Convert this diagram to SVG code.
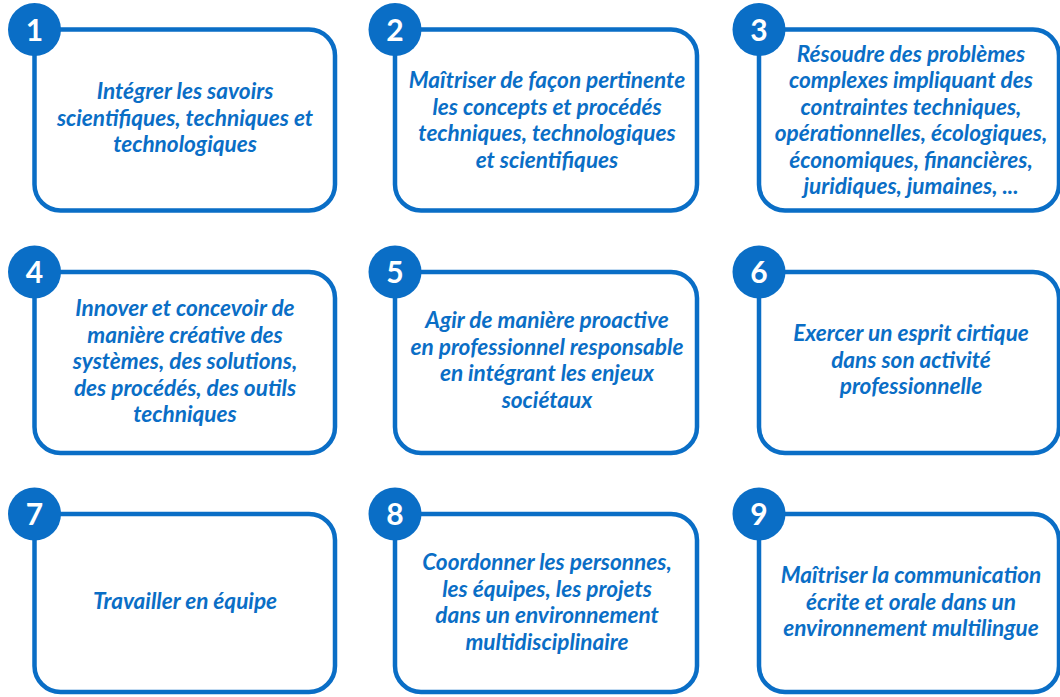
<svg xmlns="http://www.w3.org/2000/svg" width="1060" height="697" viewBox="0 0 1060 697">
<style>
.box{fill:#ffffff;stroke:#0A6EC6;stroke-width:4.5}
.num{fill:#0A6EC6}
.nt{fill:#ffffff;font-family:"Lato","Liberation Sans",sans-serif;font-weight:700;font-size:30px;text-anchor:middle}
.t{fill:#0A6EC6;font-family:"Lato","Liberation Sans",sans-serif;font-weight:700;font-style:italic;font-size:22.6px;text-anchor:middle}
</style>
<rect width="1060" height="697" fill="#ffffff"/>
<g id="connectors"></g>
<g id="node1">
<rect class="box" x="34.5" y="29.5" width="300.5" height="181" rx="26"/>
<circle class="num" cx="34.5" cy="29.5" r="26.5"/>
<text class="nt" x="34.5" y="40.5">1</text>
<text class="t" x="185" y="99">Intégrer les savoirs</text>
<text class="t" x="185" y="125.5">scientifiques, techniques et</text>
<text class="t" x="185" y="152">technologiques</text>
</g>
<g id="node2">
<rect class="box" x="395" y="29.5" width="302" height="181" rx="26"/>
<circle class="num" cx="395" cy="29.5" r="26.5"/>
<text class="nt" x="395" y="40.5">2</text>
<text class="t" x="547" y="88">Maîtriser de façon pertinente</text>
<text class="t" x="547" y="114.5">les concepts et procédés</text>
<text class="t" x="547" y="141">techniques, technologiques</text>
<text class="t" x="547" y="167.5">et scientifiques</text>
</g>
<g id="node3">
<rect class="box" x="759" y="29.5" width="300" height="181" rx="26"/>
<circle class="num" cx="759" cy="29.5" r="26.5"/>
<text class="nt" x="759" y="40.5">3</text>
<text class="t" x="911" y="61.5">Résoudre des problèmes</text>
<text class="t" x="911" y="88">complexes impliquant des</text>
<text class="t" x="911" y="114.5">contraintes techniques,</text>
<text class="t" x="911" y="141">opérationnelles, écologiques,</text>
<text class="t" x="911" y="167.5">économiques, financières,</text>
<text class="t" x="911" y="194">juridiques, jumaines, ...</text>
</g>
<g id="node4">
<rect class="box" x="34.5" y="272" width="300.5" height="181" rx="26"/>
<circle class="num" cx="34.5" cy="272" r="26.5"/>
<text class="nt" x="34.5" y="283">4</text>
<text class="t" x="185" y="316">Innover et concevoir de</text>
<text class="t" x="185" y="342.5">manière créative des</text>
<text class="t" x="185" y="369">systèmes, des solutions,</text>
<text class="t" x="185" y="395.5">des procédés, des outils</text>
<text class="t" x="185" y="422">techniques</text>
</g>
<g id="node5">
<rect class="box" x="395" y="272" width="302" height="181" rx="26"/>
<circle class="num" cx="395" cy="272" r="26.5"/>
<text class="nt" x="395" y="283">5</text>
<text class="t" x="547" y="328">Agir de manière proactive</text>
<text class="t" x="547" y="354.5">en professionnel responsable</text>
<text class="t" x="547" y="381">en intégrant les enjeux</text>
<text class="t" x="547" y="407.5">sociétaux</text>
</g>
<g id="node6">
<rect class="box" x="759" y="272" width="300" height="181" rx="26"/>
<circle class="num" cx="759" cy="272" r="26.5"/>
<text class="nt" x="759" y="283">6</text>
<text class="t" x="911" y="341">Exercer un esprit cirtique</text>
<text class="t" x="911" y="367.5">dans son activité</text>
<text class="t" x="911" y="394">professionnelle</text>
</g>
<g id="node7">
<rect class="box" x="34.5" y="514" width="300.5" height="178" rx="26"/>
<circle class="num" cx="34.5" cy="514" r="26.5"/>
<text class="nt" x="34.5" y="525">7</text>
<text class="t" x="185" y="609">Travailler en équipe</text>
</g>
<g id="node8">
<rect class="box" x="395" y="514" width="302" height="178" rx="26"/>
<circle class="num" cx="395" cy="514" r="26.5"/>
<text class="nt" x="395" y="525">8</text>
<text class="t" x="547" y="570">Coordonner les personnes,</text>
<text class="t" x="547" y="596.5">les équipes, les projets</text>
<text class="t" x="547" y="623">dans un environnement</text>
<text class="t" x="547" y="649.5">multidisciplinaire</text>
</g>
<g id="node9">
<rect class="box" x="759" y="514" width="300" height="178" rx="26"/>
<circle class="num" cx="759" cy="514" r="26.5"/>
<text class="nt" x="759" y="525">9</text>
<text class="t" x="911" y="583">Maîtriser la communication</text>
<text class="t" x="911" y="609.5">écrite et orale dans un</text>
<text class="t" x="911" y="636">environnement multilingue</text>
</g>
</svg>
